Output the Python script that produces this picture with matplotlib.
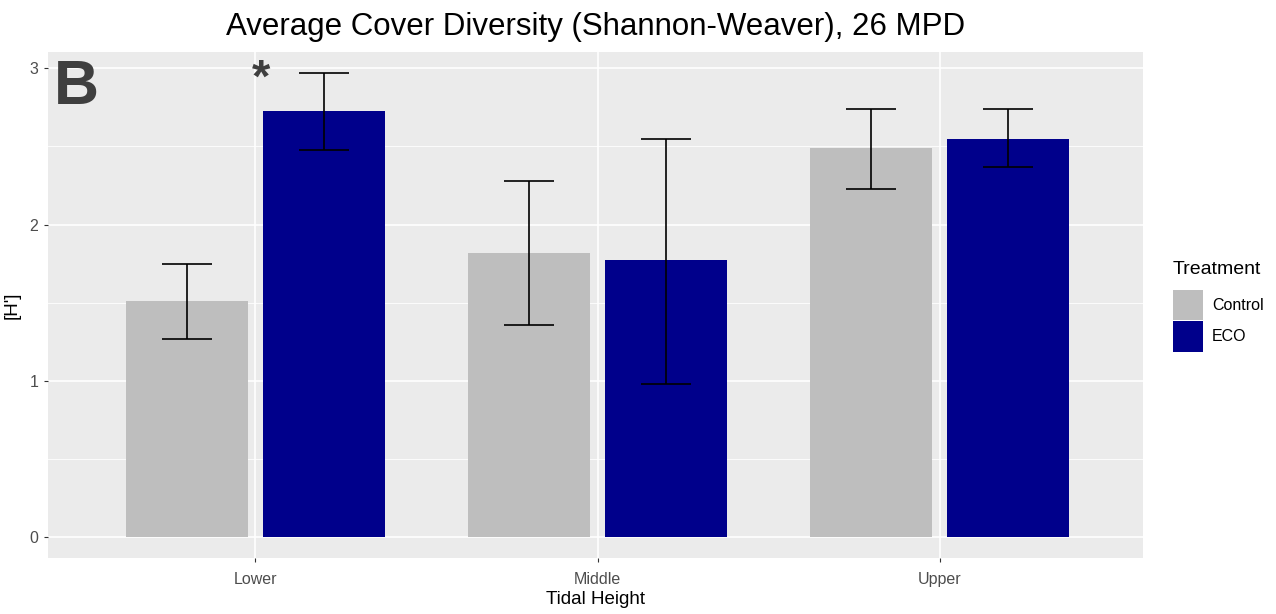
import matplotlib
matplotlib.use("Agg")
import matplotlib.pyplot as plt
from matplotlib.patches import Patch
import numpy as np

plt.rcParams['font.family'] = ['Liberation Sans', 'DejaVu Sans']

categories = ["Lower", "Middle", "Upper"]
treatments = ["Control", "ECO"]
control_mean = [1.51, 1.82, 2.49]
control_lo = [1.27, 1.36, 2.23]
control_hi = [1.75, 2.28, 2.74]
eco_mean = [2.73, 1.77, 2.55]
eco_lo = [2.48, 0.98, 2.37]
eco_hi = [2.97, 2.55, 2.74]
colors = {"Control": "#BEBEBE", "ECO": "#00008B"}

fig = plt.figure(figsize=(12.76, 6.14), dpi=100)
ax = fig.add_axes([0.0376, 0.0912, 0.8582, 0.8241])
ax.set_facecolor("#EBEBEB")

x = np.arange(1, len(categories) + 1)
off = 0.2
bw = 0.357
series = [("Control", control_mean, control_lo, control_hi, -off),
          ("ECO", eco_mean, eco_lo, eco_hi, off)]
for name, m, lo, hi, o in series:
    ax.bar(x + o, m, width=bw, color=colors[name], zorder=3)
    m = np.array(m); lo = np.array(lo); hi = np.array(hi)
    ax.errorbar(x + o, m, yerr=[m - lo, hi - m], fmt='none', ecolor='black',
                elinewidth=1.2, capsize=18, capthick=1.2, zorder=4)

ax.set_xlim(0.394, 3.594)
ax.set_ylim(-0.135, 3.105)
ax.set_xticks(x)
ax.set_xticklabels(categories)
ax.set_yticks([0, 1, 2, 3])
ax.set_yticks([0.5, 1.5, 2.5], minor=True)
ax.grid(which='major', color='white', linewidth=1.2, zorder=0)
ax.grid(which='minor', axis='y', color='white', linewidth=0.6, zorder=0)
ax.set_axisbelow(True)
for s in ax.spines.values():
    s.set_visible(False)
ax.tick_params(which='major', length=3, color='#333333', labelcolor='#4D4D4D',
               labelsize=11.5)
ax.tick_params(axis='x', pad=7)
ax.tick_params(axis='y', pad=4)
ax.tick_params(which='minor', length=0)

ax.set_xlabel("Tidal Height", fontsize=13.5, labelpad=3)
ax.set_ylabel("[H']", fontsize=13.5, labelpad=6)
ax.set_title("Average Cover Diversity (Shannon-Weaver), 26 MPD", fontsize=22.5, pad=12)

ax.text(0.412, 2.875, "B", fontsize=45, fontweight='bold', color='#3F3F3F',
        ha='left', va='center', zorder=5)
ax.text(1.018, 2.93, "*", fontsize=34, fontweight='bold', color='#3F3F3F',
        ha='center', va='center', zorder=5)

fig.text(1173 / 1276, 1 - 270 / 614, "Treatment", fontsize=14,
         ha='left', va='center')
handles = [Patch(facecolor=colors[t], edgecolor='none', label=t) for t in treatments]
leg = fig.legend(handles=handles, loc='upper left',
                 bbox_to_anchor=(1173 / 1276, 1 - 290 / 614), frameon=False,
                 fontsize=11.5, handlelength=1.85, handleheight=2.55,
                 handletextpad=0.6, labelspacing=0.05, borderaxespad=0,
                 borderpad=0)

fig.savefig("out.png", dpi=100)
